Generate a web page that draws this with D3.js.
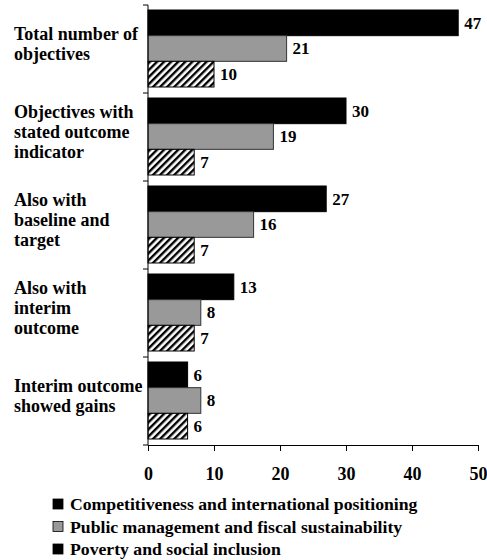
<!DOCTYPE html>
<html>
<head>
<meta charset="utf-8">
<script src="https://cdn.jsdelivr.net/npm/d3@7"></script>
<style>
  body { margin: 0; background: #fff; }
  text { font-family: "Liberation Serif", "Times New Roman", serif; font-weight: bold; }
</style>
</head>
<body>
<svg id="chart" width="487" height="560"></svg>
<script>
let categories = [
  ["Total number of", "objectives"],
  ["Objectives with", "stated outcome", "indicator"],
  ["Also with", "baseline and", "target"],
  ["Also with", "interim", "outcome"],
  ["Interim outcome", "showed gains"]
];
let seriesNames = [
  "Competitiveness and international positioning",
  "Public management and fiscal sustainability",
  "Poverty and social inclusion"
];
let competitiveness = [47, 30, 27, 13, 6];
let publicMgmt = [21, 19, 16, 8, 8];
let poverty = [10, 7, 7, 7, 6];
let xTicks = [0, 10, 20, 30, 40, 50];

let series = [competitiveness, publicMgmt, poverty];
let fills = ["#000000", "#999999", "url(#hatch)"];
let strokes = ["#000000", "#333333", "#000000"];
let legendFills = ["#000000", "#999999", "#000000"];

let svg = d3.select("#chart");

// hatch pattern for third series
let pattern = svg.append("defs")
  .append("pattern")
  .attr("id", "hatch")
  .attr("patternUnits", "userSpaceOnUse")
  .attr("width", 5)
  .attr("height", 5)
  .attr("patternTransform", "rotate(45)");
pattern.append("rect").attr("width", 5).attr("height", 5).attr("fill", "#fff");
pattern.append("rect").attr("width", 2.4).attr("height", 5).attr("fill", "#000");

let x = d3.scaleLinear().domain([0, 50]).range([148, 478]);
let y = d3.scaleBand().domain(d3.range(categories.length)).range([5, 445]);
let inner = d3.scaleBand().domain(d3.range(series.length))
  .range([5, y.bandwidth() - 6]).paddingInner(0);

// bars
let groups = svg.selectAll("g.cat")
  .data(categories)
  .enter()
  .append("g")
  .attr("class", "cat")
  .attr("transform", (d, i) => `translate(0, ${y(i)})`);

groups.each(function(c, ci) {
  let g = d3.select(this);
  series.forEach((s, si) => {
    g.append("rect")
      .attr("x", x(0))
      .attr("y", inner(si))
      .attr("width", x(s[ci]) - x(0))
      .attr("height", inner.bandwidth())
      .attr("fill", fills[si])
      .attr("stroke", strokes[si])
      .attr("stroke-width", 1);

    g.append("text")
      .attr("x", x(s[ci]) + 6)
      .attr("y", inner(si) + inner.bandwidth() / 2)
      .attr("dy", "0.35em")
      .attr("font-size", 17)
      .attr("fill", "#000")
      .text(s[ci]);
  });

  // category label
  let lh = 20;
  let top = y.bandwidth() / 2 - 5 - (c.length - 1) * lh / 2;
  g.append("text")
    .attr("font-size", 18)
    .attr("fill", "#000")
    .selectAll("tspan")
    .data(c)
    .enter()
    .append("tspan")
    .attr("x", 14)
    .attr("y", (d, i) => top + i * lh)
    .attr("dy", "0.35em")
    .text(d => d);
});

// y axis with ticks at category boundaries
let yAxis = svg.append("g");
yAxis.append("line")
  .attr("x1", x(0)).attr("x2", x(0))
  .attr("y1", y.range()[0]).attr("y2", y.range()[1])
  .attr("stroke", "#000");
yAxis.selectAll("line.tick")
  .data(d3.range(categories.length + 1))
  .enter()
  .append("line")
  .attr("class", "tick")
  .attr("x1", x(0) - 5).attr("x2", x(0))
  .attr("y1", d => y.range()[0] + d * y.step())
  .attr("y2", d => y.range()[0] + d * y.step())
  .attr("stroke", "#000");

// x axis
let xAxis = svg.append("g")
  .attr("transform", `translate(0, ${y.range()[1]})`)
  .call(d3.axisBottom(x).tickValues(xTicks).tickSize(6).tickPadding(16).tickSizeOuter(0));
xAxis.attr("font-family", null).attr("font-size", null);
xAxis.select(".domain").attr("stroke", "#000");
xAxis.selectAll(".tick line").attr("stroke", "#000");
xAxis.selectAll(".tick text")
  .attr("font-size", 18)
  .attr("fill", "#000");

// legend
let legend = svg.append("g").attr("transform", "translate(53, 504)");
let rows = legend.selectAll("g")
  .data(seriesNames)
  .enter()
  .append("g")
  .attr("transform", (d, i) => `translate(0, ${i * 22.5})`);
rows.append("rect")
  .attr("x", 0).attr("y", -5)
  .attr("width", 10).attr("height", 10)
  .attr("fill", (d, i) => legendFills[i])
  .attr("stroke", "#000")
  .attr("stroke-width", 0.8);
rows.append("text")
  .attr("x", 17)
  .attr("y", 0)
  .attr("dy", "0.35em")
  .attr("font-size", 17.7)
  .attr("fill", "#000")
  .text(d => d);
</script>
</body>
</html>
